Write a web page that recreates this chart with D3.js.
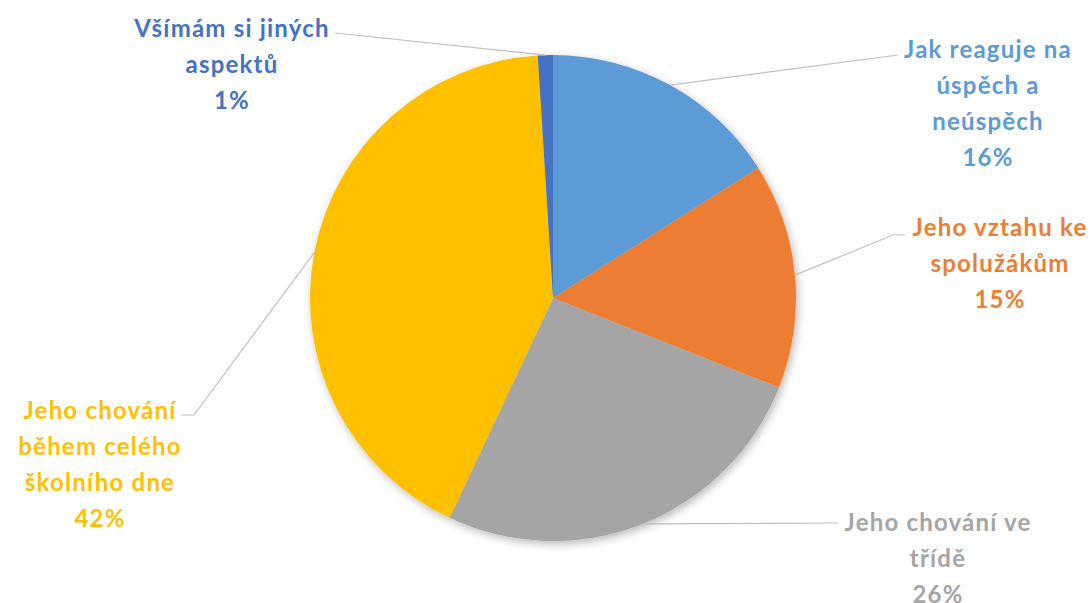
<!DOCTYPE html>
<html>
<head>
<meta charset="utf-8">
<script src="https://cdn.jsdelivr.net/npm/d3@7"></script>
<style>
  html, body { margin: 0; padding: 0; background: #fff; }
  svg { display: block; }
  .lbl { font-family: Lato, "Open Sans", sans-serif; font-weight: 700; font-size: 24px; letter-spacing: 1.2px; }
</style>
</head>
<body>
<svg id="chart" width="1091" height="603"></svg>
<script>
// Category labels (lines of each label), shares in percent, and slice colours
const categories = [
  ["Jak reaguje na", "úspěch a", "neúspěch"],
  ["Jeho vztahu ke", "spolužákům"],
  ["Jeho chování ve", "třídě"],
  ["Jeho chování", "během celého", "školního dne"],
  ["Všímám si jiných", "aspektů"]
];
const values = [16, 15, 26, 42, 1];
const colors = ["#5B9BD5", "#ED7D31", "#A5A5A5", "#FFC000", "#4472C4"];

const svg = d3.select("#chart");
const cx = 553, cy = 298, r = 243;

// soft drop shadow under the pie
const defs = svg.append("defs");
const f = defs.append("filter").attr("id", "shadow")
  .attr("x", "-20%").attr("y", "-20%").attr("width", "140%").attr("height", "140%");
f.append("feDropShadow").attr("dx", 2).attr("dy", 3).attr("stdDeviation", 4)
  .attr("flood-color", "#000").attr("flood-opacity", 0.28);

const pie = d3.pie().sort(null).value(d => d);
const arcs = pie(values);
const arc = d3.arc().innerRadius(0).outerRadius(r);

const g = svg.append("g").attr("transform", `translate(${cx},${cy})`);
g.append("g").attr("filter", "url(#shadow)")
  .selectAll("path").data(arcs).join("path")
  .attr("d", arc)
  .attr("fill", (d, i) => colors[i]);

// label placement: text centre x, first line centre y, leader elbow points
const layout = [
  { x: 988, y: 49,  leader: [[898, 55]] },
  { x: 1000, y: 227, leader: [[893, 235], [905, 235]] },
  { x: 938, y: 522, leader: [[838, 523]] },
  { x: 100, y: 410, leader: [[194, 415], [181, 415]] },
  { x: 232, y: 28,  leader: [[335, 33]] }
];
const lineGap = 36;

arcs.forEach((a, i) => {
  const mid = (a.startAngle + a.endAngle) / 2;
  const p0 = [cx + r * Math.sin(mid), cy - r * Math.cos(mid)];
  const pts = [p0, ...layout[i].leader];
  svg.append("path")
    .attr("d", d3.line()(pts))
    .attr("fill", "none")
    .attr("stroke", "#BFBFBF")
    .attr("stroke-width", 1.2);

  const lines = categories[i].concat([values[i] + "%"]);
  const t = svg.append("text").attr("class", "lbl")
    .attr("fill", colors[i])
    .attr("text-anchor", "middle");
  lines.forEach((s, k) => {
    t.append("tspan")
      .attr("x", layout[i].x)
      .attr("y", layout[i].y + k * lineGap + 8.5)
      .text(s);
  });
});
</script>
</body>
</html>
